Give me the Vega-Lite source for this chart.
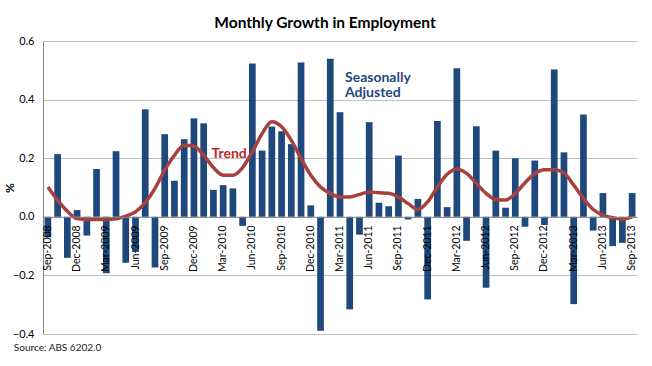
{
  "$schema": "https://vega.github.io/schema/vega-lite/v6.json",
  "width": 594,
  "height": 293,
  "autosize": {"type": "none"},
  "padding": {"left": 43, "top": 41, "right": 15, "bottom": 32},
  "background": "white",
  "config": {"view": {"stroke": null}},
  "title": {"text": "Monthly Growth in Employment", "font": "Lato", "fontSize": 15.5, "fontWeight": "bold", "color": "#000000", "anchor": "middle", "offset": -8, "baseline": "alphabetic", "dx": -15},
  "data": {"values": [
    {"month": "Sep-2008", "sa": -0.07, "trend": 0.102},
    {"month": "Oct-2008", "sa": 0.214, "trend": 0.057},
    {"month": "Nov-2008", "sa": -0.14, "trend": 0.019},
    {"month": "Dec-2008", "sa": 0.023, "trend": -0.006},
    {"month": "Jan-2009", "sa": -0.064, "trend": -0.009},
    {"month": "Feb-2009", "sa": 0.163, "trend": -0.009},
    {"month": "Mar-2009", "sa": -0.193, "trend": -0.009},
    {"month": "Apr-2009", "sa": 0.224, "trend": -0.007},
    {"month": "May-2009", "sa": -0.157, "trend": 0.002},
    {"month": "Jun-2009", "sa": -0.12, "trend": 0.017},
    {"month": "Jul-2009", "sa": 0.367, "trend": 0.048},
    {"month": "Aug-2009", "sa": -0.173, "trend": 0.097},
    {"month": "Sep-2009", "sa": 0.282, "trend": 0.159},
    {"month": "Oct-2009", "sa": 0.123, "trend": 0.21},
    {"month": "Nov-2009", "sa": 0.265, "trend": 0.244},
    {"month": "Dec-2009", "sa": 0.336, "trend": 0.241},
    {"month": "Jan-2010", "sa": 0.319, "trend": 0.21},
    {"month": "Feb-2010", "sa": 0.092, "trend": 0.168},
    {"month": "Mar-2010", "sa": 0.108, "trend": 0.142},
    {"month": "Apr-2010", "sa": 0.097, "trend": 0.142},
    {"month": "May-2010", "sa": -0.031, "trend": 0.168},
    {"month": "Jun-2010", "sa": 0.523, "trend": 0.222},
    {"month": "Jul-2010", "sa": 0.226, "trend": 0.284},
    {"month": "Aug-2010", "sa": 0.308, "trend": 0.324},
    {"month": "Sep-2010", "sa": 0.292, "trend": 0.307},
    {"month": "Oct-2010", "sa": 0.248, "trend": 0.261},
    {"month": "Nov-2010", "sa": 0.527, "trend": 0.199},
    {"month": "Dec-2010", "sa": 0.039, "trend": 0.142},
    {"month": "Jan-2011", "sa": -0.389, "trend": 0.102},
    {"month": "Feb-2011", "sa": 0.539, "trend": 0.08},
    {"month": "Mar-2011", "sa": 0.357, "trend": 0.068},
    {"month": "Apr-2011", "sa": -0.316, "trend": 0.068},
    {"month": "May-2011", "sa": -0.061, "trend": 0.076},
    {"month": "Jun-2011", "sa": 0.323, "trend": 0.085},
    {"month": "Jul-2011", "sa": 0.048, "trend": 0.082},
    {"month": "Aug-2011", "sa": 0.036, "trend": 0.08},
    {"month": "Sep-2011", "sa": 0.209, "trend": 0.068},
    {"month": "Oct-2011", "sa": -0.009, "trend": 0.045},
    {"month": "Nov-2011", "sa": 0.061, "trend": 0.025},
    {"month": "Dec-2011", "sa": -0.282, "trend": 0.051},
    {"month": "Jan-2012", "sa": 0.327, "trend": 0.102},
    {"month": "Feb-2012", "sa": 0.033, "trend": 0.145},
    {"month": "Mar-2012", "sa": 0.507, "trend": 0.163},
    {"month": "Apr-2012", "sa": -0.082, "trend": 0.148},
    {"month": "May-2012", "sa": 0.309, "trend": 0.114},
    {"month": "Jun-2012", "sa": -0.242, "trend": 0.08},
    {"month": "Jul-2012", "sa": 0.226, "trend": 0.059},
    {"month": "Aug-2012", "sa": 0.031, "trend": 0.057},
    {"month": "Sep-2012", "sa": 0.2, "trend": 0.08},
    {"month": "Oct-2012", "sa": -0.034, "trend": 0.116},
    {"month": "Nov-2012", "sa": 0.192, "trend": 0.148},
    {"month": "Dec-2012", "sa": -0.028, "trend": 0.161},
    {"month": "Jan-2013", "sa": 0.503, "trend": 0.161},
    {"month": "Feb-2013", "sa": 0.22, "trend": 0.15},
    {"month": "Mar-2013", "sa": -0.298, "trend": 0.108},
    {"month": "Apr-2013", "sa": 0.349, "trend": 0.063},
    {"month": "May-2013", "sa": -0.047, "trend": 0.025},
    {"month": "Jun-2013", "sa": 0.081, "trend": 0.006},
    {"month": "Jul-2013", "sa": -0.1, "trend": -0.003},
    {"month": "Aug-2013", "sa": -0.089, "trend": -0.008},
    {"month": "Sep-2013", "sa": 0.081, "trend": 0.0}
  ]},
  "encoding": {
    "x": {
      "field": "month", "type": "nominal", "sort": null,
      "scale": {"type": "band", "paddingInner": 0.31, "paddingOuter": 0.155},
      "axis": {
        "title": null, "orient": "bottom", "offset": -117.2,
        "values": ["Sep-2008","Dec-2008","Mar-2009","Jun-2009","Sep-2009","Dec-2009","Mar-2010","Jun-2010","Sep-2010","Dec-2010","Mar-2011","Jun-2011","Sep-2011","Dec-2011","Mar-2012","Jun-2012","Sep-2012","Dec-2012","Mar-2013","Jun-2013","Sep-2013"],
        "labelAngle": -90, "labelAlign": "right", "labelBaseline": "middle",
        "labelFont": "Lato", "labelFontSize": 10.5, "labelColor": "#000000",
        "labelPadding": 8, "ticks": false, "tickSize": 0,
        "domain": true, "domainColor": "#868686", "grid": false, "zindex": 1
      }
    }
  },
  "layer": [
    {
      "mark": {"type": "bar", "color": "#1F497D"},
      "encoding": {
        "y": {
          "field": "sa", "type": "quantitative",
          "scale": {"domain": [-0.4, 0.6], "nice": false, "zero": true},
          "axis": {
            "title": "%", "titleFont": "Lato", "titleFontSize": 12, "titleFontWeight": "bold", "titleColor": "#000000", "titlePadding": -4,
            "values": [-0.4,-0.3,-0.2,-0.1,0,0.1,0.2,0.3,0.4,0.5,0.6],
            "format": ".1f", "labelFont": "Lato", "labelFontSize": 11, "labelColor": "#000000",
            "labelPadding": 9, "ticks": false, "tickSize": 0,
            "grid": true, "gridColor": "#BFBFBF", "gridWidth": 1,
            "domain": true, "domainColor": "#868686"
          }
        }
      }
    },
    {
      "mark": {"type": "line", "color": "#A8403C", "strokeWidth": 3.5, "interpolate": "monotone"},
      "encoding": {"y": {"field": "trend", "type": "quantitative"}}
    },
    {
      "data": {"values": [{"label": "Trend"}]},
      "mark": {"type": "text", "font": "Lato", "fontSize": 14, "fontWeight": "bold", "color": "#C0282D", "align": "left", "baseline": "middle", "dx": -2},
      "encoding": {
        "x": {"datum": "Feb-2010"},
        "y": {"datum": 0.216},
        "text": {"field": "label"}
      }
    },
    {
      "data": {"values": [{"label": ["Seasonally", "Adjusted"]}]},
      "mark": {"type": "text", "font": "Lato", "fontSize": 14, "fontWeight": "bold", "color": "#1F497D", "align": "left", "baseline": "alphabetic", "lineHeight": 15.5, "dx": 5},
      "encoding": {
        "x": {"datum": "Mar-2011"},
        "y": {"datum": 0.461},
        "text": {"field": "label"}
      }
    },
    {
      "data": {"values": [{"label": "Source: ABS 6202.0"}]},
      "mark": {"type": "text", "font": "Lato", "fontSize": 10, "color": "#1a1a1a", "align": "left", "baseline": "middle", "dx": -34, "dy": 14},
      "encoding": {
        "x": {"datum": "Sep-2008"},
        "y": {"datum": -0.4},
        "text": {"field": "label"}
      }
    }
  ]
}
